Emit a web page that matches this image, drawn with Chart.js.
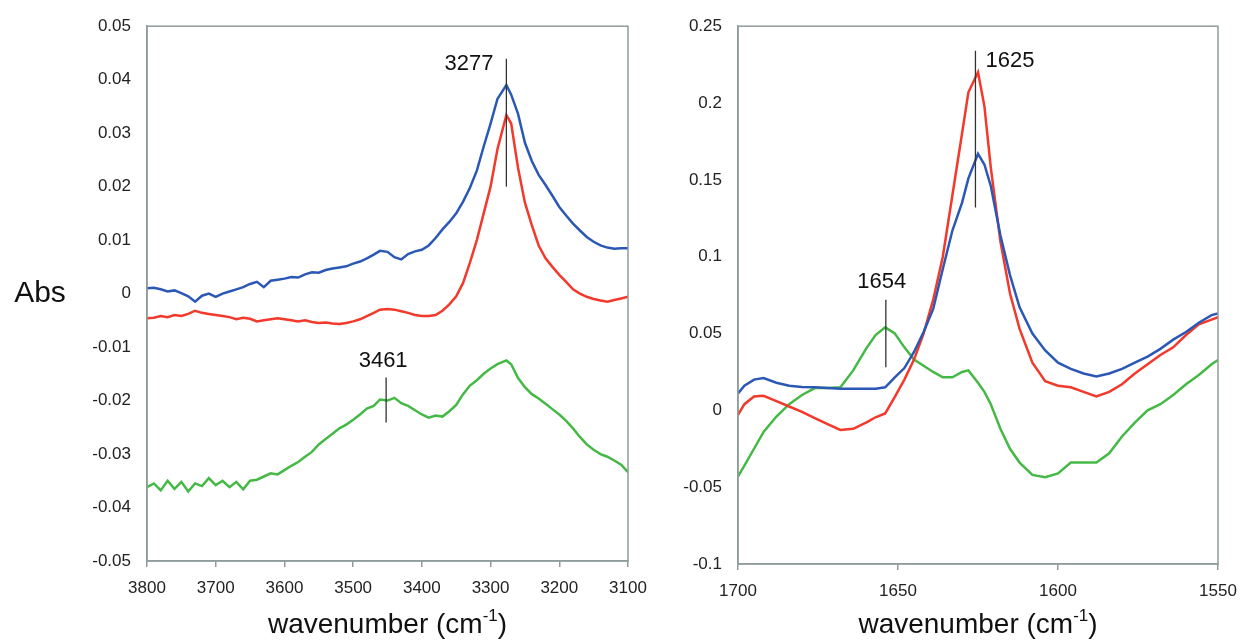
<!DOCTYPE html>
<html>
<head>
<meta charset="utf-8">
<script src="https://cdn.jsdelivr.net/npm/chart.js@4.4.1/dist/chart.umd.min.js"></script>
<style>
  body { margin: 0; background: #fff; }
  #wrap { position: relative; width: 1240px; height: 640px; overflow: hidden; }
  #leftChart { position: absolute; left: 0; top: 0; }
  #rightChart { position: absolute; left: 640px; top: 0; }
</style>
</head>
<body>
<div id="wrap">
  <canvas id="leftChart" width="660" height="640"></canvas>
  <canvas id="rightChart" width="600" height="640"></canvas>
</div>
<script>
// O-H / N-H stretch region (left panel)
var leftWavenumber = [3800,3790,3780,3770,3760,3750,3740,3730,3720,3710,3700,3690,3680,3670,3660,3650,3640,3630,3620,3610,
  3600,3590,3580,3570,3560,3550,3540,3530,3520,3510,3500,3490,3480,3470,3461,3450,3440,3430,3420,3410,
  3400,3390,3380,3370,3360,3350,3340,3330,3320,3310,3300,3290,3277,3270,3260,3250,3240,3230,3220,3210,
  3200,3190,3180,3170,3160,3150,3140,3130,3120,3110,3100];
var leftBlue = [0.0010,0.0011,0.0008,0.0004,0.0006,0.0001,-0.0005,-0.0015,-0.0004,0.0000,-0.0006,0.0000,0.0004,0.0008,0.0012,0.0018,0.0022,0.0012,0.0024,0.0026,
  0.0028,0.0031,0.0030,0.0036,0.0040,0.0039,0.0044,0.0047,0.0049,0.0051,0.0056,0.0060,0.0066,0.0073,0.0080,0.0078,0.0068,0.0064,0.0074,0.0079,
  0.0082,0.0090,0.0104,0.0120,0.0134,0.0150,0.0172,0.0198,0.0230,0.0275,0.0318,0.0364,0.0390,0.0372,0.0336,0.0282,0.0248,0.0222,0.0203,0.0183,
  0.0162,0.0146,0.0131,0.0118,0.0106,0.0097,0.0090,0.0086,0.0084,0.0085,0.0085];
var leftRed = [-0.0046,-0.0045,-0.0042,-0.0044,-0.0040,-0.0042,-0.0038,-0.0032,-0.0036,-0.0038,-0.0040,-0.0042,-0.0044,-0.0048,-0.0045,-0.0047,-0.0052,-0.0050,-0.0048,-0.0046,
  -0.0048,-0.0050,-0.0052,-0.0050,-0.0053,-0.0055,-0.0054,-0.0056,-0.0057,-0.0055,-0.0052,-0.0048,-0.0042,-0.0036,-0.0030,-0.0029,-0.0030,-0.0033,-0.0036,-0.0040,
  -0.0042,-0.0042,-0.0040,-0.0032,-0.0020,-0.0005,0.0020,0.0058,0.0100,0.0150,0.0200,0.0270,0.0334,0.0318,0.0235,0.0170,0.0128,0.0090,0.0066,0.0050,
  0.0035,0.0022,0.0008,0.0000,-0.0006,-0.0010,-0.0013,-0.0015,-0.0012,-0.0009,-0.0006];
var leftGreen = [-0.0362,-0.0355,-0.0368,-0.0350,-0.0365,-0.0352,-0.0370,-0.0355,-0.0360,-0.0345,-0.0358,-0.0350,-0.0362,-0.0352,-0.0366,-0.0350,-0.0348,-0.0342,-0.0336,-0.0338,
  -0.0330,-0.0322,-0.0315,-0.0305,-0.0296,-0.0282,-0.0272,-0.0262,-0.0252,-0.0245,-0.0236,-0.0226,-0.0215,-0.0210,-0.0198,-0.0200,-0.0195,-0.0205,-0.0210,-0.0218,
  -0.0226,-0.0232,-0.0228,-0.0230,-0.0220,-0.0208,-0.0188,-0.0172,-0.0162,-0.0150,-0.0140,-0.0132,-0.0125,-0.0132,-0.0158,-0.0175,-0.0188,-0.0196,-0.0206,-0.0216,
  -0.0226,-0.0238,-0.0252,-0.0268,-0.0282,-0.0292,-0.0300,-0.0305,-0.0312,-0.0320,-0.0334];

// amide region (right panel)
var rightWavenumber = [1700,1698,1695,1692,1688,1684,1680,1676,1672,1668,1664,1660,1657,1654,1651,1648,1645,1642,1639,1636,
  1633,1630,1628,1625,1623,1621,1618,1615,1612,1608,1604,1600,1596,1592,1588,1584,1580,1576,1572,1568,
  1564,1560,1556,1552,1550];
var rightBlue = [0.011,0.016,0.020,0.021,0.018,0.016,0.0152,0.0150,0.0145,0.0140,0.0140,0.0140,0.0140,0.0150,0.0215,0.0275,0.038,0.051,0.066,0.092,
  0.117,0.135,0.151,0.167,0.160,0.146,0.114,0.088,0.067,0.050,0.039,0.031,0.027,0.024,0.022,0.024,0.027,0.031,0.035,0.040,
  0.046,0.051,0.057,0.062,0.063];
var rightRed = [-0.003,0.004,0.009,0.0095,0.006,0.0025,-0.001,-0.005,-0.009,-0.0128,-0.012,-0.008,-0.0045,-0.002,0.0087,0.020,0.033,0.050,0.072,0.100,
  0.140,0.180,0.207,0.220,0.198,0.158,0.110,0.076,0.053,0.031,0.019,0.016,0.015,0.012,0.009,0.012,0.017,0.024,0.030,0.036,
  0.041,0.049,0.056,0.059,0.0607];
var rightGreen = [-0.043,-0.036,-0.025,-0.014,-0.004,0.004,0.010,0.0145,0.0145,0.015,0.026,0.040,0.049,0.054,0.050,0.041,0.033,0.029,0.025,0.0215,
  0.0215,0.025,0.026,0.018,0.012,0.004,-0.012,-0.025,-0.034,-0.042,-0.0435,-0.041,-0.034,-0.034,-0.034,-0.028,-0.017,-0.008,0.000,0.004,
  0.010,0.017,0.023,0.030,0.0327];

// marked peaks: wavenumber, marker line from/to (Abs)
var leftPeaks = [
  { label: '3277', x: 3277, from: 0.020, to: 0.0439 },
  { label: '3461', x: 3452, from: -0.0241, to: -0.0157 }
];
var rightPeaks = [
  { label: '1625', x: 1625.8, from: 0.132, to: 0.234 },
  { label: '1654', x: 1653.8, from: 0.028, to: 0.072 }
];

var font = '"Liberation Sans", Arial, sans-serif';
var frame = '#8f9c9c';

function points(xs, ys) {
  return xs.map(function(x, i) { return { x: x, y: ys[i] }; });
}

function series(name, xs, ys, color) {
  return { label: name, data: points(xs, ys), borderColor: color, borderWidth: 2.5,
           pointRadius: 0, tension: 0, fill: false };
}

// box, peak markers and axis titles
var decorations = {
  id: 'decorations',
  afterDraw: function(chart, args, o) {
    var ctx = chart.ctx, a = chart.chartArea, xs = chart.scales.x, ys = chart.scales.y;
    ctx.save();
    ctx.strokeStyle = frame;
    ctx.lineWidth = 1.5;
    ctx.strokeRect(a.left, a.top, a.right - a.left, a.bottom - a.top);

    ctx.strokeStyle = '#333';
    ctx.lineWidth = 1.3;
    ctx.fillStyle = '#111';
    ctx.font = '22px ' + font;
    ctx.textBaseline = 'middle';
    o.peaks.forEach(function(p, i) {
      var px = xs.getPixelForValue(p.x);
      var top = ys.getPixelForValue(p.to), bot = ys.getPixelForValue(p.from);
      ctx.beginPath();
      ctx.moveTo(px, top);
      ctx.lineTo(px, bot);
      ctx.stroke();
      var place = o.place[i];
      ctx.textAlign = place.align;
      ctx.fillText(p.label, px + place.dx, top + place.dy);
    });

    // x axis title with superscript
    var cx = (a.left + a.right) / 2, ty = 623;
    var t1 = 'wavenumber (cm', t2 = '-1', t3 = ')';
    ctx.font = '28px ' + font;
    var w1 = ctx.measureText(t1).width, w3 = ctx.measureText(t3).width;
    ctx.font = '17px ' + font;
    var w2 = ctx.measureText(t2).width;
    var x0 = cx - (w1 + w2 + w3) / 2;
    ctx.textAlign = 'left';
    ctx.textBaseline = 'alphabetic';
    ctx.font = '28px ' + font;
    ctx.fillText(t1, x0, ty + 10);
    ctx.font = '17px ' + font;
    ctx.fillText(t2, x0 + w1, ty - 2);
    ctx.font = '28px ' + font;
    ctx.fillText(t3, x0 + w1 + w2, ty + 10);

    if (o.yTitle) {
      ctx.font = '30px ' + font;
      ctx.textAlign = 'center';
      ctx.textBaseline = 'middle';
      ctx.fillText(o.yTitle, 40, ys.getPixelForValue(0));
    }
    ctx.restore();
  }
};

function makeChart(id, cfg) {
  return new Chart(document.getElementById(id), {
    type: 'line',
    data: { datasets: [
      series('blue', cfg.xs, cfg.blue, '#2b57b5'),
      series('red', cfg.xs, cfg.red, '#f2392b'),
      series('green', cfg.xs, cfg.green, '#45b945')
    ] },
    options: {
      responsive: false,
      animation: false,
      layout: { padding: { left: 0, right: cfg.padRight, top: cfg.top, bottom: 0 } },
      plugins: {
        legend: { display: false },
        tooltip: { enabled: false },
        decorations: { peaks: cfg.peaks, place: cfg.place, yTitle: cfg.yTitle }
      },
      scales: {
        x: {
          type: 'linear', reverse: true, min: cfg.xMin, max: cfg.xMax,
          ticks: { stepSize: cfg.xStep, padding: 11, color: '#222', font: { size: 17, family: font },
                   callback: function(v) { return String(v); } },
          grid: { drawOnChartArea: false, drawTicks: true, tickLength: 6, color: frame, lineWidth: 1.5 },
          border: { display: true, color: frame, width: 1.5 },
          afterFit: function(s) { s.height = cfg.xHeight; s.paddingLeft = 0; s.paddingRight = 0; }
        },
        y: {
          min: cfg.yMin, max: cfg.yMax,
          ticks: { stepSize: cfg.yStep, padding: 16, color: '#222', font: { size: 17, family: font },
                   callback: function(v) { return String(Number(v.toFixed(2))); } },
          grid: { display: false, drawTicks: false },
          border: { display: true, color: frame, width: 1.5 },
          afterFit: function(s) { s.width = cfg.yWidth; }
        }
      }
    },
    plugins: [decorations]
  });
}

makeChart('leftChart', {
  xs: leftWavenumber, blue: leftBlue, red: leftRed, green: leftGreen,
  xMin: 3100, xMax: 3800, xStep: 100, yMin: -0.05, yMax: 0.05, yStep: 0.01,
  yWidth: 147, xHeight: 79, top: 24, padRight: 32,
  peaks: leftPeaks, yTitle: 'Abs',
  place: [ { align: 'right', dx: -13, dy: 5 }, { align: 'center', dx: -3, dy: -17 } ]
});

makeChart('rightChart', {
  xs: rightWavenumber, blue: rightBlue, red: rightRed, green: rightGreen,
  xMin: 1550, xMax: 1700, xStep: 50, yMin: -0.1, yMax: 0.25, yStep: 0.05,
  yWidth: 98, xHeight: 76, top: 26, padRight: 22,
  peaks: rightPeaks, yTitle: null,
  place: [ { align: 'left', dx: 10, dy: 10 }, { align: 'center', dx: -4, dy: -18 } ]
});
</script>
</body>
</html>
